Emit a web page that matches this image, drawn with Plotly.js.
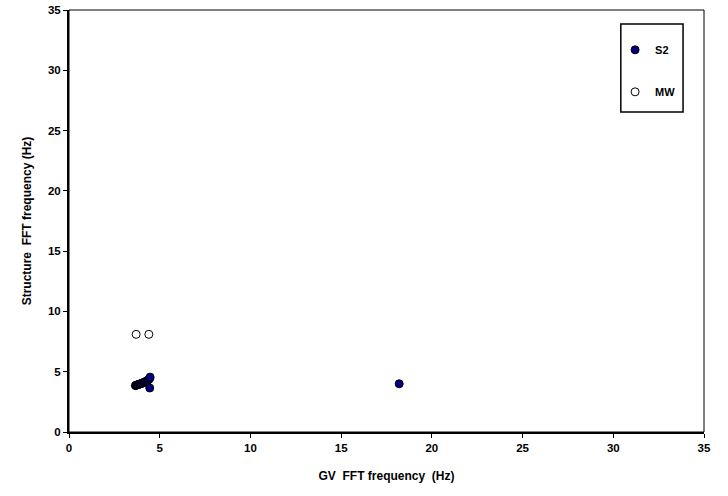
<!DOCTYPE html>
<html><head><meta charset="utf-8">
<script src="https://cdn.plot.ly/plotly-3.0.1.min.js"></script>
<style>body{margin:0;background:#fff}#c{width:728px;height:496px}</style>
</head><body><div id="c"></div>
<script>
const s2X = [3.66, 3.7, 3.74, 3.78, 3.82, 3.86, 3.9, 3.95, 4.0, 4.05, 4.1, 4.15, 4.2, 4.27, 4.33, 4.4, 4.45, 4.47, 4.45, 18.2];
const s2Y = [3.85, 3.87, 3.9, 3.92, 3.94, 3.96, 3.98, 4.0, 4.03, 4.06, 4.1, 4.13, 4.17, 4.22, 4.28, 4.35, 4.45, 4.55, 3.65, 4.0];
const mwX = [3.7, 4.4];
const mwY = [8.1, 8.1];
const xTicks = [0, 5, 10, 15, 20, 25, 30, 35];
const yTicks = [0, 5, 10, 15, 20, 25, 30, 35];

const fam = 'Liberation Sans, Arial, sans-serif';
const traces = [
  {x: s2X, y: s2Y, name: '<b>S2</b>', type: 'scatter', mode: 'markers', legendgroup: 'a',
   marker: {size: 8, color: '#000080', line: {color: '#000', width: 1}}},
  {x: mwX, y: mwY, name: '<b>MW</b>', type: 'scatter', mode: 'markers', legendgroup: 'b',
   marker: {size: 8, color: '#ffffff', line: {color: '#000', width: 1}}}
];
const axisBase = {range: [0, 35], showgrid: false, zeroline: false,
  showline: true, linecolor: '#000', linewidth: 2, ticks: 'outside', ticklen: 4, tickcolor: '#000', tickwidth: 1,
  tickfont: {family: fam, size: 11.5, color: '#000', weight: 'bold'}};
const layout = {
  width: 728, height: 496, paper_bgcolor: '#fff', plot_bgcolor: '#fff',
  margin: {l: 69, r: 24, t: 10, b: 64},
  font: {family: fam, color: '#000'},
  xaxis: Object.assign({}, axisBase, {tickvals: xTicks, ticktext: xTicks.map(v => '<b>' + v + '</b>'),
    title: {text: '<b>GV  FFT frequency  (Hz)</b>', font: {family: fam, size: 12, color: '#000'}, standoff: 19}}),
  yaxis: Object.assign({}, axisBase, {tickvals: yTicks, ticktext: yTicks.map(v => '<b>' + v + '</b>'),
    title: {text: '<b>Structure  FFT frequency (Hz)</b>', font: {family: fam, size: 12, color: '#000'}, standoff: 14}}),
  showlegend: true,
  legend: {x: 0.86, y: 0.94, xanchor: 'left', yanchor: 'top', bgcolor: 'rgba(0,0,0,0)', borderwidth: 0,
    traceorder: 'grouped', tracegroupgap: 23, itemwidth: 30,
    font: {family: fam, size: 11, color: '#000'}},
  shapes: [
    {type: 'rect', xref: 'paper', yref: 'paper', x0: 0, x1: 1, y0: 0, y1: 1, line: {color: '#000', width: 1}},
    {type: 'rect', xref: 'paper', yref: 'paper', x0: 0.869, x1: 0.967, y0: 0.758, y1: 0.967, line: {color: '#000', width: 1.5}}
  ]
};
Plotly.newPlot('c', traces, layout, {displayModeBar: false, staticPlot: true});
</script></body></html>
